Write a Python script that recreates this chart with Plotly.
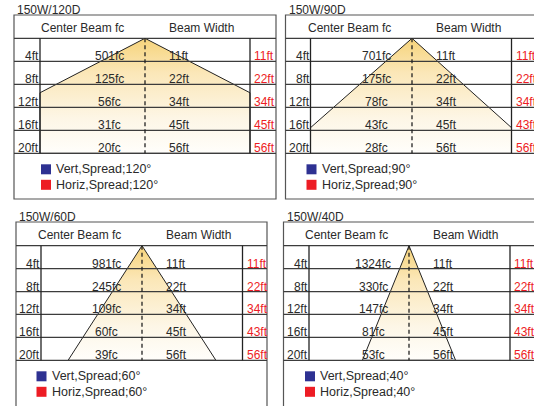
import math
import plotly.graph_objects as go

# ---------------- data ----------------
titles = ["150W/120D", "150W/90D", "150W/60D", "150W/40D"]
spread_deg = [120, 90, 60, 40]
distance_labels = ["4ft", "8ft", "12ft", "16ft", "20ft"]
distance_ft = [4, 8, 12, 16, 20]

fc_120 = [501, 125, 56, 31, 20]
fc_90 = [701, 175, 78, 43, 28]
fc_60 = [981, 245, 109, 60, 39]
fc_40 = [1324, 330, 147, 81, 53]

beam_vert_120 = [11, 22, 34, 45, 56]
beam_vert_90 = [11, 22, 34, 45, 56]
beam_vert_60 = [11, 22, 34, 45, 56]
beam_vert_40 = [11, 22, 34, 45, 56]

beam_horiz_120 = [11, 22, 34, 45, 56]
beam_horiz_90 = [11, 22, 34, 43, 56]
beam_horiz_60 = [11, 22, 34, 43, 56]
beam_horiz_40 = [11, 22, 34, 43, 56]

header_left = "Center Beam fc"
header_right = "Beam Width"

fc_sets = [fc_120, fc_90, fc_60, fc_40]
vert_sets = [beam_vert_120, beam_vert_90, beam_vert_60, beam_vert_40]
horiz_sets = [beam_horiz_120, beam_horiz_90, beam_horiz_60, beam_horiz_40]

# ---------------- layout geometry (pixels) ----------------
W_PX, H_PX = 534, 406
SX = 6.4  # horizontal px per ft
panels = [
    dict(box=(14, 276, 15, 199), hb=38.3, tb=153.3, inner=(40, 250), apex=145, leg_x=41),
    dict(box=(285.5, 560, 15, 199), hb=38.3, tb=153.3, inner=(310.5, 511.5), apex=412, leg_x=306.5),
    dict(box=(16, 267, 222, 430), hb=245.7, tb=360.3, inner=(41, 242.5), apex=142, leg_x=36.5),
    dict(box=(283.5, 560, 222, 430), hb=245.7, tb=360.3, inner=(309, 510), apex=409, leg_x=305),
]

FONT = "Liberation Sans, Arial, sans-serif"
TXT = "#2a2a2a"
RED = "#ed1c24"
BLUE = "#2e3192"
LINE = "#3c3c3c"

fig = go.Figure()
shapes = []
annotations = []
layout_axes = {}

for i, p in enumerate(panels):
    n = "" if i == 0 else str(i + 1)
    xr, yr = "x" + n, "y" + n
    sy = (p["tb"] - p["hb"]) / 20.0

    def fx(px, p=p):
        return (px - p["apex"]) / SX

    def fy(py, p=p, sy=sy):
        return (py - p["hb"]) / sy

    layout_axes["xaxis" + n] = dict(domain=[0, 1], range=[fx(0), fx(W_PX)], visible=False,
                                    fixedrange=True, anchor=yr)
    layout_axes["yaxis" + n] = dict(domain=[0, 1], range=[fy(H_PX), fy(0)], visible=False,
                                    fixedrange=True, anchor=xr)

    bx0, bx1, by0, by1 = p["box"]
    il, ir = p["inner"]
    Wl = fx(il)
    Wr = fx(ir)

    # beam triangle (from spread angle), clipped by table side lines
    t = math.tan(math.radians(spread_deg[i] / 2.0))
    dmax = distance_ft[-1]
    half = min(-Wl, Wr)
    if dmax * t > half:
        dc = half / t
        xs = [0, Wr, Wr, Wl, Wl, 0]
        ys = [0, dc, dmax, dmax, dc, 0]
    else:
        h = dmax * t
        xs = [0, h, -h, 0]
        ys = [0, dmax, dmax, 0]
    fig.add_trace(go.Scatter(
        x=xs, y=ys, xaxis=xr, yaxis=yr, mode="lines", fill="toself",
        line=dict(color="#222222", width=1),
        fillgradient=dict(type="vertical", start=0, stop=dmax,
                          colorscale=[[0, "#f6d37a"], [0.3, "#fbe7b8"], [0.7, "#fdf6e6"], [1, "#fffefb"]]),
        hoverinfo="skip", showlegend=False))

    # outer box
    shapes.append(dict(type="rect", xref=xr, yref=yr, x0=fx(bx0), x1=fx(bx1), y0=fy(by0), y1=fy(by1),
                       line=dict(color="#555555", width=1.2), layer="above"))
    # header bottom + row lines
    for d in [0] + distance_ft:
        shapes.append(dict(type="line", xref=xr, yref=yr, x0=fx(bx0), x1=fx(bx1), y0=d, y1=d,
                           line=dict(color=LINE, width=1.3), layer="above"))
    # inner vertical lines
    for xv in (Wl, Wr):
        shapes.append(dict(type="line", xref=xr, yref=yr, x0=xv, x1=xv, y0=0, y1=dmax,
                           line=dict(color="#222222", width=1.3), layer="above"))
    # dashed center line
    shapes.append(dict(type="line", xref=xr, yref=yr, x0=0, x1=0, y0=0, y1=dmax,
                       line=dict(color="#222222", width=1.3, dash="4px,3px"), layer="above"))

    base = dict(xref=xr, yref=yr, showarrow=False, font=dict(family=FONT, size=12, color=TXT))
    # title
    annotations.append(dict(base, x=fx(bx0 + 1), y=fy(by0), text=titles[i], xanchor="left",
                            yanchor="bottom", yshift=-4))
    # header
    hy = fy((by0 + p["hb"]) / 2)
    annotations.append(dict(base, x=fx(p["apex"] - 63), y=hy, text=header_left, xanchor="center",
                            yanchor="middle", yshift=-1))
    annotations.append(dict(base, x=fx(p["apex"] + 56.5), y=hy, text=header_right, xanchor="center",
                            yanchor="middle", yshift=-1))
    # rows
    for k, d in enumerate(distance_ft):
        annotations.append(dict(base, x=Wl + 1 / SX, y=d, text=distance_labels[k], xanchor="right",
                                yanchor="bottom", yshift=-4))
        annotations.append(dict(base, x=fx(p["apex"] - 36), y=d, text=f"{fc_sets[i][k]}fc",
                                xanchor="center", yanchor="bottom", yshift=-4))
        annotations.append(dict(base, x=fx(p["apex"] + 22), y=d, text=f"{vert_sets[i][k]}ft",
                                xanchor="left", yanchor="bottom", yshift=-4))
        rb = dict(base)
        rb["font"] = dict(family=FONT, size=12, color=RED)
        annotations.append(dict(rb, x=Wr + 2 / SX, y=d, text=f"{horiz_sets[i][k]}ft",
                                xanchor="left", yanchor="bottom", yshift=-4))
    # legend
    lx = p["leg_x"]
    for j, (col, lab) in enumerate([(BLUE, f"Vert,Spread;{spread_deg[i]}°"),
                                    (RED, f"Horiz,Spread;{spread_deg[i]}°")]):
        top = p["tb"] + 11 + j * 15.5
        shapes.append(dict(type="rect", xref=xr, yref=yr, x0=fx(lx), x1=fx(lx + 10),
                           y0=fy(top), y1=fy(top + 10), line=dict(width=0), fillcolor=col))
        lb = dict(base)
        lb["font"] = dict(family=FONT, size=12.5, color=TXT)
        annotations.append(dict(lb, x=fx(lx + 13), y=fy(top + 5), text=lab, xanchor="left",
                                yanchor="middle"))

fig.update_layout(
    width=W_PX, height=H_PX, margin=dict(l=0, r=0, t=0, b=0),
    paper_bgcolor="white", plot_bgcolor="rgba(0,0,0,0)",
    shapes=shapes, annotations=annotations, showlegend=False,
    **layout_axes,
)
fig.write_html("out.html", config={"displayModeBar": False},
               post_script="document.body.style.margin='0';document.body.style.overflow='hidden';")
